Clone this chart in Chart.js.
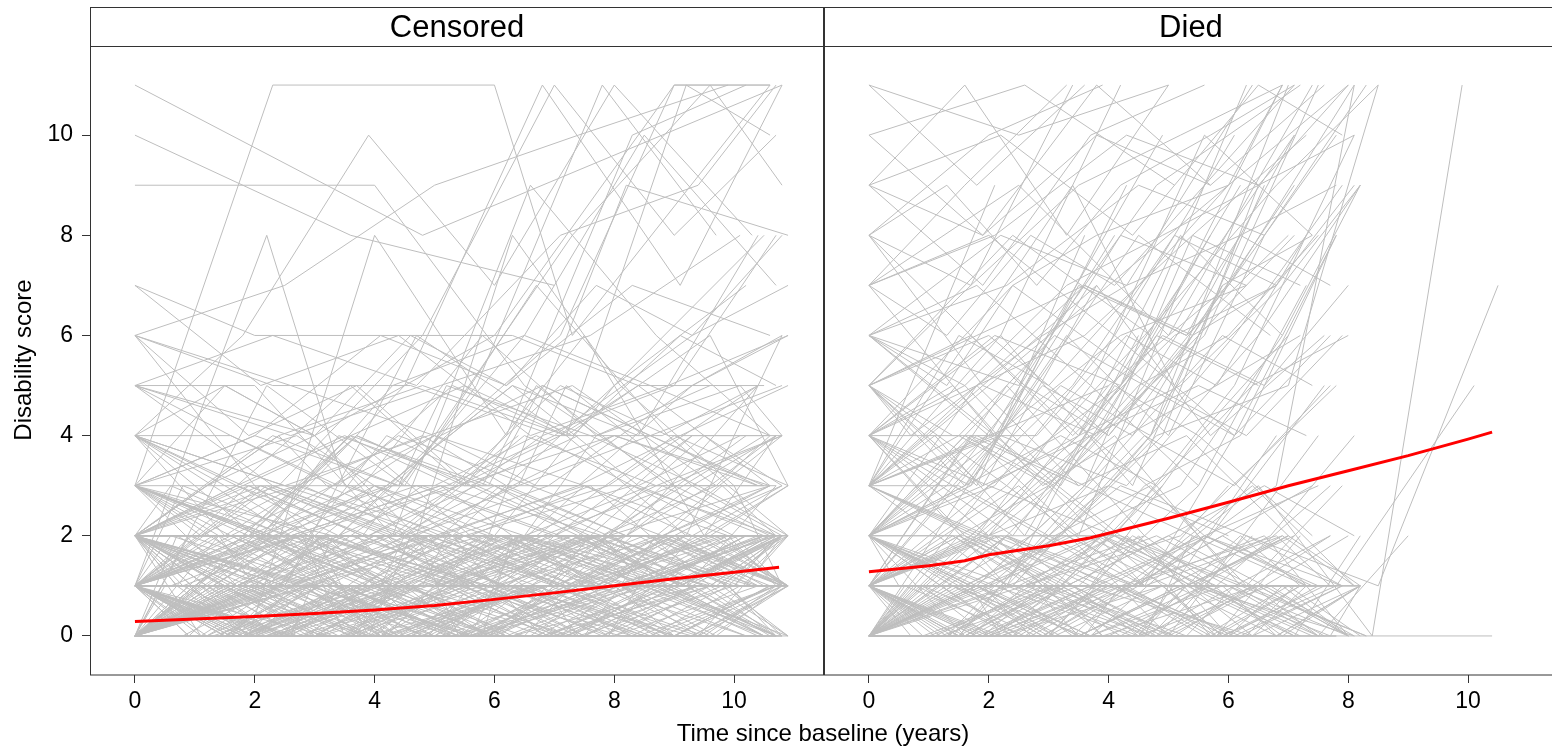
<!DOCTYPE html>
<html>
<head>
<meta charset="utf-8">
<title>Disability score trajectories</title>
<script src="https://cdn.jsdelivr.net/npm/chart.js@4"></script>
<style>
    html, body { margin: 0; padding: 0; background: #fff; overflow: hidden; }
    #wrap {
        position: relative; width: 1552px; height: 748px; overflow: hidden;
        font-family: "Liberation Sans", Arial, sans-serif; color: #000;
    }
    #wrap canvas { position: absolute; top: 0; }
    #c1 { left: 0; }
    #c2 { left: 824px; }
    .strip {
        position: absolute; top: 7px; height: 39px; line-height: 39px;
        width: 734px; text-align: center; font-size: 31px;
    }
    .axis-title { position: absolute; font-size: 24px; line-height: 28px; text-align: center; white-space: nowrap; }
    #xtitle { left: 523px; top: 719px; width: 600px; }
    #ytitle { left: -127px; top: 346px; width: 300px; transform: rotate(-90deg); }
</style>
</head>
<body>
<div id="wrap">
    <canvas id="c1" width="824" height="748"></canvas>
    <canvas id="c2" width="734" height="748"></canvas>
    <div class="strip" style="left:90px">Censored</div>
    <div class="strip" style="left:824px">Died</div>
    <div id="xtitle" class="axis-title">Time since baseline (years)</div>
    <div id="ytitle" class="axis-title">Disability score</div>
</div>
<script>
// tick values
const xTicks = [0, 2, 4, 6, 8, 10];
const yTicks = [0, 2, 4, 6, 8, 10];

// Censored: visit times (years) and disability scores per subject
const censoredTimes = [
    [0,1.9,3.8,5.6,7.4,9.1,10.7],
    [0,2.2,4.3,6.4,8.5,10.6],
    [0,1.6,3.3,5.0,6.6,8.3,9.9,10.8],
    [0,2.5,4.9,7.2,9.6,10.9],
    [0,1.7,3.5,5.2,6.9],
    [0,2.0,4.1],
    [0,1.8,3.7,5.5,7.3,9.0,10.6],
    [0,2.3,4.4,6.7,8.8,10.7],
    [0,1.5,3.1,4.6,6.2,7.8,9.3,10.8],
    [0,2.1,4.2,6.1,8.2,10.3],
    [0,1.9,3.9,5.8,7.7,9.6,10.9],
    [0,2.4,4.7,7.0,9.2,10.8],
    [0,1.6,3.2,4.9,6.5],
    [0,2.0,3.9,6.0,7.9,9.8,10.7],
    [0,2.6,5.1,7.5,10.1],
    [0,1.8,3.6,5.3,7.1,8.9,10.6],
    [0,2.2,4.5,6.6,8.7,10.8],
    [0,1.7,3.4,5.1],
    [0,1.9,3.8,5.7,7.5,9.4,10.9],
    [0,2.3,4.6,6.8,9.0,10.7],
    [0,1.5,3.0,4.5,6.0,7.6,9.1,10.6],
    [0,2.1,4.0,6.2,8.1,10.2],
    [0,2.7,5.3,7.9,10.4],
    [0,1.8,3.5,5.4,7.2,8.9,10.7],
    [0,2.0,4.2,6.3,8.4,10.5],
    [0,1.6,3.4,5.2,6.9,8.6,10.3],
    [0,2.4,4.8,7.1,9.5,10.9],
    [0,1.9,3.7,5.6,7.4],
    [0,2.2,4.3,6.5,8.6,10.7],
    [0,1.7,3.3,5.0,6.7,8.4,10.0,10.8],
    [0,2.5,5.0,7.4,9.8],
    [0,1.8,3.9,5.9,7.8,9.7,10.6],
    [0,2.1,4.4,6.6,8.9,10.9],
    [0,1.6,3.2,4.8,6.4,8.0,9.6,10.7],
    [0,2.3,4.5,6.8,9.1,10.8],
    [0,1.9,3.8,5.8,7.7,9.5],
    [0,2.0,4.1,6.1,8.2,10.4],
    [0,2.6,5.2,7.7,10.2],
    [0,1.7,3.5,5.3,7.0,8.8,10.6],
    [0,2.2,4.3,6.4,8.6,10.7],
    [0,1.5,3.1,4.7,6.3,7.9,9.5,10.9],
    [0,2.4,4.7,7.1,9.3,10.8],
    [0,1.8,3.6,5.5,7.3,9.2,10.7],
    [0,2.1,4.2,6.3],
    [0,1.9,3.9,5.7,7.6,9.5,10.8],
    [0,2.3,4.6,6.9,9.2,10.6],
    [0,1.6,3.3,5.0,6.7,8.3,10.0,10.9],
    [0,2.0,4.0,6.0,8.0,10.0,10.7],
    [0,2.7,5.4,8.0,10.6],
    [0,1.7,3.4,5.2,6.9,8.7,10.5],
    [0,2.2,4.4,6.7,8.9,10.8],
    [0,1.8,3.7,5.5,7.4,9.3,10.9],
    [0,2.5,4.9,7.3,9.7,10.8],
    [0,1.9,3.8,5.6,7.5,9.3,10.7],
    [0,2.1,4.3,6.4],
    [0,1.6,3.1,4.8,6.4,8.1,9.7,10.8],
    [0,2.3,4.6,7.0,9.3,10.9],
    [0,1.8,3.5,5.3,7.1,8.9,10.6],
    [0,2.0,4.1,6.2,8.3,10.4],
    [0,2.6,5.1,7.6,10.0],
    [0,1.7,3.5,5.2,7.0,8.7,10.5],
    [0,2.2,4.4,6.5,8.6,10.8],
    [0,1.9,3.7,5.6,7.4,9.3],
    [0,2.4,4.8,7.2,9.6,10.9],
    [0,1.5,3.0,4.6,6.1,7.7,9.2,10.7],
    [0,2.1,4.2,6.4,8.5,10.6],
    [0,1.8,3.6,5.4,7.2,9.0,10.8],
    [0,2.5,5.0,7.5],
    [0,1.6,3.3,5.1,6.8,8.5,10.2],
    [0,2.3,4.5,6.8,9.0,10.7],
    [0,4.8,10.8],
    [0,3.6,7.0],
    [0,4.0,6.5,9.0],
    [0,2.3,6.0,7.3,10.6],
    [0,2.1,4.5,6.8,9.1,10.8],
    [0,1.9,4.0,6.2,8.3,10.2],
    [0,2.4,4.8,7.0,9.0,10.7],
    [0,1.7,3.4,5.2,7.1,9.0,10.6],
    [0,2.0,4.1,6.3,8.4,10.5],
    [0,2.2,3.5,5.9,8.2,10.9],
    [0,2.0,4.3,6.6,8.7,10.6],
    [0,1.8,3.9,6.0,8.0,10.3],
    [0,2.6,5.0,7.5,9.9],
    [0,2.3,4.4,6.5,8.5,10.7],
    [0,1.5,3.0,4.7,6.3,8.1,10.0,10.8],
    [0,2.1,4.2,6.3,8.4,10.4],
    [0,2.4,5.0,7.3,9.6,10.8],
    [0,1.7,3.6,5.5,7.5,9.5,10.7],
    [0,3.0,6.0,9.0,10.6],
    [0,2.2,4.5,6.7,8.9,10.9],
    [0,1.9,3.8,5.7,7.8,9.7],
    [0,2.5,4.7,7.2,9.2,10.8],
    [0,1.6,3.4,5.3,7.2,9.2,10.6],
    [0,2.0,4.0,6.1,8.3,10.5],
    [0,2.3,4.6,6.9,9.3,10.8],
    [0,1.8,3.6,5.6,7.6,9.6,10.8],
    [0,2.1,4.3,6.5,8.6,10.6],
    [0,2.7,5.3,8.0,10.5],
    [0,1.7,3.4,5.2,7.0,8.8,10.4],
    [0,2.2,4.5,6.7,9.0,10.9],
    [0,1.8,3.6,5.3,7.1,8.9,10.7],
    [0,2.0,4.0,5.9,7.9,9.9,10.8],
    [0,1.6,3.2,4.9,6.5,8.2,9.9,10.7],
    [0,2.4,4.7,7.0,9.4,10.8],
    [0,1.9,3.9,5.8,7.7,9.6,10.9],
    [0,2.2,4.3,6.4,8.5,10.7],
    [0,1.7,3.5,5.4,7.2,9.1,10.6],
    [0,2.5,4.9,7.4,9.8,10.9],
    [0,1.5,3.2,4.8,6.5,8.1,9.8,10.8],
    [0,2.1,4.1,6.2,8.3,10.5],
    [0,1.8,3.7,5.5,7.3,9.2,10.7],
    [0,2.3,4.5,6.7,9.0,10.8],
    [0,1.9,3.8,5.7,7.6,9.5,10.6],
    [0,2.0,4.2,6.3,8.5,10.7],
    [0,1.6,3.4,5.1,6.8,8.6,10.3],
    [0,2.6,5.1,7.7,10.2],
    [0,1.7,3.5,5.3],
    [0,2.2,4.4,6.6,8.8,10.8],
    [0,1.9,3.9,5.9,7.8,9.8,10.9],
    [0,2.4,4.6,6.9,9.1,10.6],
    [0,1.4,2.9,4.4,5.9,7.4,8.9,10.4],
    [0,2.8,5.5,8.2,10.7],
    [0,1.2,2.6,4.0,5.5,7.0,8.6,10.1,10.8],
    [0,3.1,6.2,9.3,10.8],
    [0,1.3,2.7,4.2,5.8,7.3,8.9,10.5],
    [0,2.9,5.7,8.6,10.9],
    [0,1.4,3.0,4.5,6.1,7.7,9.2,10.7],
    [0,2.6,5.3,7.8,10.4],
    [0,1.5,2.8,4.3,5.7,7.2,8.7,10.2],
    [0,3.3,6.5,9.6,10.9],
    [0,1.1,2.4,3.9,5.4,6.9,8.4,9.9,10.8],
    [0,2.7,5.4,8.1,10.7],
    [0,1.6,3.0,4.4,5.9,7.5,9.0,10.6],
    [0,2.9,5.6,8.4,10.8],
    [0,1.3,2.8,4.3,5.9,7.4,9.0,10.5],
    [0,3.0,6.1,9.1,10.7],
    [0,1.4,2.9,4.5,6.0,7.6,9.1,10.6],
    [0,2.5,5.2,7.9,10.6],
    [0,1.2,2.5,4.1,5.6,7.1,8.7,10.3],
    [0,2.8,5.6,8.3,10.9],
    [0,1.5,3.0,4.6,6.2,7.7,9.3,10.8],
    [0,3.2,6.3,9.4,10.8],
    [0,1.3,2.6,4.0,5.6,7.2,8.8,10.4],
    [0,2.6,5.3,8.0,10.5],
    [0,1.4,2.9,4.3,5.8,7.4,8.9,10.5],
    [0,2.9,5.8,8.7,10.9],
    [0,1.1,2.5,4.0,5.5,7.1,8.6,10.2,10.8],
    [0,3.0,5.9,8.9,10.7],
    [0,1.6,3.1,4.7,6.2,7.8,9.4,10.9],
    [0,2.7,5.4,8.2,10.6],
    [0,1.5,2.9,4.4,6.0,7.5,9.1,10.6],
    [0,2.4,5.0,7.6,10.3],
    [0,1.3,2.7,4.2,5.7,7.2,8.8,10.3],
    [0,3.1,6.0,9.0,10.8],
    [0,1.2,2.8,4.3,5.9,7.5,9.0,10.6],
    [0,2.8,5.5,8.3,10.7],
    [0,1.4,2.8,4.2,5.7,7.3,8.9,10.4],
    [0,2.6,5.1,7.8,10.5],
    [0,1.5,3.1,4.6,6.1,7.6,9.2,10.8],
    [0,3.0,6.0,8.9,10.9],
    [0,1.5,3.0,4.6,6.2,7.7,9.3,10.8],
    [0,2.3,4.7,7.1,9.4,10.7],
    [0,2.0,4.1,6.2,8.3,10.6],
    [0,1.8,3.6,5.5,7.3,9.1,10.7],
    [0,2.5,5.0,7.4,9.9],
    [0,2.2,4.4,6.5,8.7,10.8],
    [0,1.7,3.5,5.3,7.1,8.9,10.6],
    [0,2.4,4.8,7.2,9.6,10.9],
    [0,2.0,4.2,6.3,8.4,10.5],
    [0,1.9,3.8,5.8,7.7,9.6],
    [0,2.6,5.1,7.6,10.1],
    [0,2.1,4.3,6.4,8.6,10.8],
    [0,1.6,3.3,5.0,6.7,8.4,10.1],
    [0,2.3,4.5,6.8,9.0,10.7],
    [0,2.0,4.0,6.0,8.0,10.2],
    [0,1.8,3.7,5.5,7.4,9.3,10.9],
    [0,2.5,4.9,7.3,9.7],
    [0,2.2,4.4,6.6,8.8,10.6],
    [0,1.7,3.4,5.1,6.8,8.6,10.4],
    [0,2.3,4.7,7.0,9.3,10.8],
    [0,0.9,2.7,3.4,5.8,6.3,8.9,10.5],
    [0,1.1,3.6,4.2,6.9,7.6,9.8,10.8],
    [0,2.9,3.8,5.1,7.9,8.4,10.6],
    [0,0.7,2.2,4.9,5.6,8.1,9.4,10.9],
    [0,1.3,3.9,4.6,7.2,8.0,10.4],
    [0,2.4,3.1,5.9,6.5,9.0,10.7],
    [0,0.8,2.5,3.3,6.0,7.0,9.6,10.8],
    [0,1.5,4.0,5.0,7.7,8.6,10.9],
    [0,2.8,3.5,6.2,7.3,9.9,10.6],
    [0,1.0,2.3,4.7,5.4,8.3,9.1,10.8],
    [0,1.9,2.6,5.3,6.1,8.8,10.5],
    [0,0.6,3.2,4.4,6.6,7.9,10.1,10.9],
    [0,2.1,3.7,4.5,7.0,8.2,10.7],
    [0,1.2,2.9,5.6,6.4,9.2,10.6],
    [0,2.6,3.3,5.7,7.5,8.7,10.9],
    [0,0.9,1.8,4.3,5.5,7.8,9.5,10.8],
    [0,1.6,3.4,4.1,6.8,7.4,10.0,10.7],
    [0,2.3,4.8,5.2,7.9,9.3,10.8],
    [0,1.4,2.0,4.6,6.3,8.5,10.4],
    [0,0.8,3.0,3.9,6.7,7.2,9.7,10.9],
    [0,2.7,4.3,5.8,8.0,9.0,10.6],
    [0,1.1,2.4,5.0,5.9,8.6,10.8],
    [0,1.8,3.6,4.4,7.1,8.0,10.5],
    [0,0.5,2.8,4.1,6.4,7.7,9.9,10.7],
    [0,2.2,3.1,5.5,6.9,9.4,10.9],
    [0,1.3,3.8,4.9,7.4,8.3,10.6],
    [0,2.5,3.4,6.0,6.8,9.6,10.8],
    [0,0.7,1.9,4.5,5.3,8.0,8.8,10.7],
    [0,1.7,4.2,5.1,7.6,9.1,10.9],
    [0,2.0,2.9,5.4,6.6,8.9,10.5],
    [0,0.9,3.3,4.0,6.5,7.3,10.2,10.8],
    [0,1.5,2.6,4.8,6.1,8.4,10.7],
    [0,2.4,3.9,5.2,7.8,8.5,10.6],
    [0,1.0,2.2,4.3,5.7,7.9,9.3,10.9],
    [0,1.9,3.5,4.7,7.0,8.8,10.8],
    [0,0.6,2.7,3.6,6.2,7.1,9.5,10.7],
    [0,2.6,4.5,5.6,8.1,9.7,10.9],
    [0,1.2,3.1,4.0,6.7,7.5,10.3],
    [0,2.1,3.0,5.8,6.3,9.0,10.6],
    [0,0.8,2.4,4.9,5.5,8.2,9.8,10.8],
    [0,1.4,3.7,4.6,7.3,8.7,10.7],
    [0,2.8,3.6,6.1,7.0,9.2,10.9],
    [0,1.1,2.0,4.4,5.2,7.7,9.0,10.5],
    [0,1.6,3.2,5.3,6.0,8.5,10.8],
    [0,2.3,3.3,5.0,7.5,8.3,10.6],
    [0,0.7,2.6,3.8,6.6,7.8,9.4,10.9],
    [0,1.8,4.1,4.9,7.2,9.5,10.7],
    [0,2.5,3.0,5.6,6.4,8.9,10.8],
    [0,1.3,2.3,4.6,5.9,8.1,10.4],
    [0,0.9,3.5,4.3,6.9,7.6,10.0,10.9],
    [0,1.2,3.0,4.5,6.4,7.2,9.3,10.7],
    [0,2.2,3.4,5.8,6.7,8.9,10.8],
    [0,0.8,2.9,4.2,6.0,7.9,10.2],
    [0,1.7,3.9,5.4,7.1,8.4,10.6],
    [0,2.4,3.2,5.1,7.4,9.1,10.9],
    [0,1.1,2.7,4.8,6.2,8.2,9.6,10.7],
    [0,1.9,3.6,5.9,6.8,8.6,10.5],
    [0,0.6,2.5,4.0,6.5,7.7,10.1,10.8],
    [0,2.0,4.4,5.2,7.6,9.4,10.9],
    [0,1.5,2.8,4.7,6.3,8.0,10.4]
];
const censoredScores = [
    [0,0,1,0,1,1,2],
    [1,0,0,1,2,1],
    [0,1,0,0,1,0,1,2],
    [2,1,1,0,1,0],
    [0,0,0,1,0],
    [1,2,0],
    [0,1,1,2,1,2,3],
    [3,2,1,1,0,1],
    [0,0,1,1,0,0,1,0],
    [1,1,2,1,2,2],
    [0,0,0,0,1,0,1],
    [2,0,1,2,1,1],
    [1,0,2,0,1],
    [0,2,1,0,1,3,2],
    [4,2,3,1,2],
    [1,1,0,1,1,0,0],
    [0,0,1,1,2,4],
    [2,1,0,1],
    [0,1,0,0,0,1,1],
    [5,3,2,2,3,2],
    [1,0,0,1,1,2,1,1],
    [0,1,2,1,1,0],
    [3,4,2,3,5],
    [0,0,1,0,1,1,0],
    [2,2,1,1,1,2],
    [1,0,0,0,0,1,1],
    [0,1,3,2,1,1],
    [6,4,5,3,4],
    [1,2,1,2,3,3],
    [0,1,1,0,0,1,2,1],
    [2,1,0,2,2],
    [0,0,1,2,2,3,4],
    [7,5,6,4,5,6],
    [1,1,1,0,0,0,1,1],
    [0,0,0,1,1,2],
    [2,3,2,1,2,1],
    [1,0,1,3,2,5],
    [0,2,1,1,0],
    [3,1,2,2,1,3,2],
    [0,1,0,0,0,1],
    [2,1,0,1,1,2,2,3],
    [1,0,2,1,3,2],
    [4,3,3,2,2,1,1],
    [0,1,1,2],
    [1,2,2,3,2,4,3],
    [0,0,1,1,1,0],
    [5,4,3,3,4,3,2,2],
    [1,1,0,2,1,1,2],
    [2,2,3,4,3],
    [0,1,2,1,0,1,0],
    [3,2,2,1,1,2],
    [1,0,0,1,0,0,1],
    [0,1,1,2,1,1],
    [2,2,1,1,3,2,2],
    [1,3,2,4],
    [0,0,1,0,1,1,0,1],
    [6,5,5,4,6,7],
    [1,1,2,2,1,1,1],
    [0,2,1,0,1,2],
    [1,0,0,1,1],
    [2,1,1,0,2,3,3],
    [0,0,1,1,0,0],
    [3,2,4,3,2,4],
    [1,1,1,2,2,3],
    [0,1,0,1,2,1,1,0],
    [2,3,2,2,1,1],
    [0,0,0,1,1,2,2],
    [4,3,2,3],
    [1,2,1,1,2,1,2],
    [0,1,1,0,1,1],
    [11,8,11],
    [10,8,7],
    [9,9,5,3],
    [3,11,11,6,11],
    [0,2,5,11,7,11],
    [1,0,8,4,10,11],
    [2,3,6,11,8,10],
    [0,1,2,4,6,11,11],
    [7,6,6,6,5,5],
    [1,8,3,2,9,8],
    [5,5,2,9,6,4],
    [4,6,10,7,11,8],
    [6,5,4,3,2],
    [2,4,3,6,10,7],
    [3,5,4,2,8,5,3,1],
    [0,1,3,5,4,8],
    [1,2,4,8,11,9],
    [2,3,5,3,6,2,4],
    [5,4,6,11,11],
    [0,5,3,7,4,2],
    [1,3,2,5,11,8],
    [2,1,6,4,2,6],
    [4,4,3,5,4,11,10],
    [6,3,1,2,1,0],
    [1,1,2,3,5,6],
    [0,2,4,2,3,1,2],
    [3,2,5,6,5,4],
    [2,3,2,5,8],
    [1,2,2,3,4,4,5],
    [0,1,1,2,4,3],
    [1,0,1,1,0,1,1],
    [0,1,1,0,2,1,0],
    [2,1,1,2,2,1,2,1],
    [0,0,0,0,1,1],
    [1,1,0,0,1,2,1],
    [0,1,2,2,1,0],
    [2,2,1,0,0,1,1],
    [1,0,1,1,2,2],
    [0,1,0,0,1,1,1,2],
    [3,2,1,1,1,1],
    [0,0,1,1,2,1,3],
    [1,2,0,1,0,1],
    [2,1,2,1,2,2,2],
    [0,0,0,1,0,0],
    [1,1,1,1,2,2,1],
    [0,1,2,1,1],
    [1,0,1,0],
    [2,1,1,2,2,3],
    [0,1,1,1,0,1,0],
    [1,0,0,1,1,2],
    [0,1,1,0,1,2,1,1],
    [1,1,2,1,2],
    [0,0,1,1,1,0,0,1,1],
    [2,1,1,0,1],
    [1,1,0,0,2,1,0,0],
    [0,1,0,1,1],
    [2,2,1,2,1,1,2,2],
    [0,0,2,2,1],
    [1,0,1,0,0,1,1,2],
    [3,2,2,1,1],
    [0,1,0,1,1,2,2,1,1],
    [1,2,1,0,0],
    [0,0,0,1,1,0,1,1],
    [2,1,0,1,1],
    [1,2,2,1,0,1,1,0],
    [0,1,1,1,2],
    [0,0,1,1,2,2,1,1],
    [3,1,2,2,3],
    [1,1,1,0,1,1,0,0],
    [0,0,1,0,0],
    [2,1,2,1,1,2,2,3],
    [1,0,0,1,1],
    [0,1,1,2,1,1,2,1],
    [1,1,0,1,2],
    [3,2,2,1,1,1,2,2],
    [0,1,2,1,1],
    [1,0,0,1,0,1,1,2,2],
    [2,2,1,1,0],
    [0,1,1,1,2,1,1,1],
    [1,0,1,2,2],
    [4,3,2,2,3,2,1,2],
    [0,2,1,1,1],
    [1,1,2,2,1,0,1,1],
    [0,0,1,1,2],
    [2,1,0,1,1,1,0,1],
    [1,2,2,3,2],
    [0,0,1,0,0,1,1,1],
    [3,2,3,2,4],
    [1,0,0,0,1,1,1,2],
    [2,1,1,2,1],
    [4,5,4,6,5,7,6,8],
    [5,6,5,8,9,11],
    [3,4,6,5,7,6],
    [2,3,4,5,4,6,5],
    [6,7,9,10,11],
    [1,3,2,4,3,4],
    [3,3,4,3,5,4,4],
    [2,4,5,4,6,3],
    [4,2,3,5,3,2],
    [1,2,3,6,4,5],
    [5,4,5,6,8],
    [2,2,3,3,4,5],
    [3,2,3,4,3,3,4],
    [1,3,2,4,5,8],
    [0,1,3,2,5,7],
    [2,2,4,3,3,5,6],
    [4,3,4,5,3],
    [1,2,4,3,2,3],
    [2,3,2,4,5,4,3],
    [3,2,3,2,4,4],
    [1,0,2,1,0,2,1,1],
    [0,1,1,0,1,2,2,1],
    [2,0,1,2,0,1,2],
    [0,2,1,0,1,1,0,2],
    [1,1,0,2,1,0,1],
    [0,1,2,1,2,1,1],
    [2,1,0,1,0,1,1,2],
    [0,0,1,1,2,1,0],
    [1,2,0,1,1,2,2],
    [0,1,2,2,0,1,2,1],
    [2,0,1,1,2,1,0],
    [1,2,1,0,1,2,1,1],
    [0,1,0,2,1,1,2],
    [2,1,1,0,2,1,1],
    [1,0,2,1,0,2,1],
    [0,1,0,1,2,1,2,2],
    [2,2,1,0,1,0,1,1],
    [1,0,1,2,2,1,2],
    [0,2,1,1,0,1,0],
    [1,1,2,0,1,1,2,1],
    [0,1,1,2,1,0,1],
    [2,0,1,1,2,2,1],
    [1,1,0,1,0,1,2],
    [0,1,1,0,2,1,1,0],
    [2,1,2,1,1,0,1],
    [0,0,1,2,1,2,2],
    [1,2,1,1,0,1,1],
    [2,1,0,1,1,2,1,0],
    [0,1,2,1,2,1,2],
    [1,0,1,0,1,1,2],
    [0,2,1,1,0,1,1,2],
    [2,1,1,2,1,0,1],
    [1,1,0,1,2,1,1],
    [0,1,2,1,1,0,2,1],
    [2,0,0,1,1,2,1],
    [1,1,2,2,1,1,0,1],
    [0,2,1,0,1,1,2],
    [1,0,1,1,2,2,1],
    [2,1,0,1,1,0,1],
    [0,0,1,2,1,1,1,2],
    [1,2,2,1,0,1,1],
    [2,1,1,0,1,2,2],
    [0,1,0,1,1,1,2,1],
    [1,1,2,2,1,0,0],
    [0,2,1,1,2,1,1],
    [2,1,1,0,0,1,2,1],
    [1,0,1,2,1,1,0],
    [0,1,2,1,2,2,1],
    [2,2,1,1,0,1,1],
    [1,0,0,1,1,2,1,2],
    [2,3,4,2,3,5,3,4],
    [3,2,4,3,5,3,4],
    [1,3,2,4,3,2,4],
    [4,3,2,3,4,5,3],
    [2,4,3,2,3,4,5],
    [3,2,3,4,3,2,3,4],
    [1,2,4,3,5,4,3],
    [2,3,2,3,2,4,5,4],
    [3,4,3,5,4,3,2],
    [4,2,3,2,3,4,3]
];

// Died: visit times (years) and disability scores per subject
const diedTimes = [
    [0,1.8,3.6,5.4],
    [0,2.0,4.1],
    [0,1.6,3.2,4.9,6.5],
    [0,2.3,4.5,6.8,8.1],
    [0,1.7,3.4],
    [0,2.1],
    [0,1.9,3.8,5.7,7.6],
    [0,2.4,4.8,7.1],
    [0,1.5,3.1,4.6,6.2,7.8],
    [0,2.2,4.3,6.4],
    [0,1.8,3.5,5.3,7.0,8.2],
    [0,2.0,4.0,6.0],
    [0,1.6,3.3],
    [0,2.5,5.0,7.5],
    [0,1.7,3.5,5.2,6.9],
    [0,2.1,4.2,6.3,8.3],
    [0,1.9,3.7,5.6],
    [0,2.3,4.6],
    [0,1.6,3.1,4.7,6.3,7.9],
    [0,2.2,4.4,6.6],
    [0,1.8,3.7,5.5,7.3],
    [0,2.6,5.1],
    [0,1.5,3.0,4.5,6.0,7.5],
    [0,2.0,4.1,6.1,8.1],
    [0,1.7,3.4,5.1],
    [0,2.4,4.7,7.0],
    [0,1.9,3.8],
    [0,2.1,4.3,6.4,8.2],
    [0,1.6,3.3,5.0,6.6],
    [0,2.3,4.5,6.7],
    [0,1.8,3.6],
    [0,2.0,4.0,6.1,7.9],
    [0,1.7,3.5,5.2,6.9],
    [0,2.5,4.9],
    [0,1.9,3.9,5.8,7.7],
    [0,2.2,4.2],
    [0,1.5,3.1,4.6,6.1],
    [0,2.1,4.3,6.5,8.0],
    [0,1.8,3.7,5.5],
    [0,2.4,4.7,7.1],
    [0,1.6,3.2,4.8,6.4],
    [0,2.0,3.9],
    [0,1.7,3.4,5.2,6.9,8.2],
    [0,2.3,4.6,6.9],
    [0,1.9,3.8,5.6,7.5],
    [0,2.2],
    [0,1.8,3.5,5.3,7.0],
    [0,2.6,5.2,7.8],
    [0,1.6,3.3,5.0],
    [0,2.0,4.1,6.2,8.2],
    [0,1.7,3.5,5.3,7.1],
    [0,2.4,4.8],
    [0,1.9,3.7,5.6,7.4],
    [0,2.1,4.2,6.3],
    [0,1.5,3.0,4.6,6.1,7.7],
    [0,2.3,4.5,6.8],
    [0,1.8,3.6,5.4,7.2],
    [0,2.0,4.0],
    [0,1.7,3.3,5.0,6.7,8.1],
    [0,2.5,5.0,7.4],
    [0,1.6,3.2,4.9],
    [0,2.2,4.4,6.6,8.0],
    [0,1.9,3.8,5.7],
    [0,2.1,4.1,6.1,7.8],
    [0,1.8,3.6,5.4],
    [0,2.4,4.7],
    [0,1.5,3.1,4.7,6.3,7.9],
    [0,2.0,4.0,6.0,8.0],
    [0,1.7,3.4],
    [0,2.3,4.6,6.9,8.2],
    [0,1.8,3.7,5.6,7.4],
    [0,2.2,4.3],
    [0,1.6,3.3,5.0,6.6,8.1],
    [0,2.0,4.2,6.3],
    [0,1.9,3.8,5.7,7.6],
    [0,2.6,5.1,7.7],
    [0,1.7,3.5,5.2],
    [0,2.1,4.3,6.4,8.1],
    [0,1.8,3.6],
    [0,2.4,4.8,7.2],
    [0,1.5,3.0,4.5,6.0],
    [0,2.2,4.4,6.5,7.9],
    [0,1.9,3.9],
    [0,2.0,4.1,6.2,8.3],
    [0,1.6,3.2,4.8,6.5],
    [0,2.3,4.5],
    [0,1.7,3.4,5.1,6.8],
    [0,2.5,5.0],
    [0,1.8,3.5,5.3,7.1,8.2],
    [0,2.1,4.2,6.3],
    [0,1.9,3.7,5.5,7.4],
    [0,2.2,4.5,6.7],
    [0,1.6,3.3,5.0,6.7],
    [0,2.0,4.0,6.0,8.1],
    [0,1.7,3.5],
    [0,2.0,4.1,6.2,8.0,10.4],
    [0,2.2,4.4,6.5,8.4,9.9],
    [0,2.1,4.2,6.3,8.5,10.5],
    [0,1.9,3.9,5.8,7.8,10.1],
    [0,2.3,4.6,6.8,8.5],
    [0,1.8,3.7,5.6,7.5,9.0],
    [0,2.4,4.8,7.0,8.5],
    [0,1.4,2.9,4.3,5.8,7.2],
    [0,1.6,3.1,4.7,6.2,7.9],
    [0,1.3,2.7,4.1,5.6,7.0,8.2],
    [0,1.8,3.5,5.2,6.9],
    [0,1.5,3.0,4.4,5.9,7.4],
    [0,2.0,3.9,5.9,7.8],
    [0,1.2,2.6,4.0,5.5],
    [0,1.7,3.4,5.0,6.6,8.2],
    [0,1.4,2.8,4.2,5.6,7.1],
    [0,1.9,3.7,5.6,7.5],
    [0,1.3,2.6,3.9,5.3,6.7,8.0],
    [0,1.6,3.2,4.8,6.4],
    [0,1.5,3.0,4.5,6.0,7.6],
    [0,1.8,3.6,5.4,7.2],
    [0,1.4,2.9,4.4,5.9,7.3,8.2],
    [0,1.7,3.3,5.0,6.6],
    [0,1.3,2.8,4.2,5.7,7.2],
    [0,2.1,4.1,6.0,8.0],
    [0,1.5,3.1,4.6,6.1,7.7],
    [0,1.9,3.8,5.6],
    [0,1.2,2.5,3.9,5.4,6.9,8.1],
    [0,1.6,3.2,4.9,6.5,8.0],
    [0,1.4,2.7,4.1,5.5,7.0],
    [0,1.8,3.5,5.3,7.1],
    [0,1.5,2.9,4.4,6.0,7.5],
    [0,2.0,4.0,5.9,7.8],
    [0,1.3,2.7,4.2,5.7],
    [0,1.7,3.4,5.1,6.8,8.2],
    [0,1.5,3.0,4.5,6.0,7.5],
    [0,1.8,3.6,5.4,7.1],
    [0,1.4,2.9,4.4,5.9],
    [0,2.0,4.0,6.0,7.8],
    [0,1.6,3.2,4.8,6.4,8.0],
    [0,1.3,2.7,4.1,5.6,7.1],
    [0,1.9,3.8,5.7],
    [0,1.5,3.1,4.6,6.2,7.7],
    [0,1.7,3.5,5.2,6.9],
    [0,2.2,4.3,6.5,8.2],
    [0,1.4,2.8,4.3,5.8,7.3],
    [0,1.8,3.7,5.5,7.3],
    [0,1.6,3.3,4.9,6.5,8.1],
    [0,2.1,4.2,6.2],
    [0,1.3,2.6,4.0,5.4,6.8],
    [0,1.9,3.8,5.7,7.6],
    [0,1.5,3.0,4.6,6.1,7.7],
    [0,1.7,3.4,5.1,6.8,8.1],
    [0,2.0,4.1,6.1],
    [0,1.4,2.9,4.4,5.9,7.4],
    [0,1.8,3.6,5.3,7.0],
    [0,1.6,3.1,4.7,6.3,7.9],
    [0,2.3,4.5,6.6,8.3],
    [0,1.5,3.0,4.5,6.0],
    [0,1.9,3.7,5.6,7.5],
    [0,1.3,2.8,4.2,5.7,7.1],
    [0,1.7,3.5,5.2,6.9,8.2],
    [0,2.1,4.2,6.3],
    [0,1.4,2.9,4.3,5.8,7.2],
    [0,1.8,3.6,5.4,7.3],
    [0,0.8,2.4,3.9,5.1,6.8],
    [0,1.1,2.9,4.6,5.4,7.3],
    [0,0.6,2.2,3.4,5.8,6.5,8.0],
    [0,1.4,3.6,4.2,6.1,7.9],
    [0,0.9,2.0,4.5,5.3,7.0],
    [0,1.7,2.6,4.8,6.4,7.5],
    [0,0.7,3.0,3.8,5.6,7.7,8.2],
    [0,1.2,2.3,4.0,6.0,6.9],
    [0,2.0,3.3,5.0,5.7,7.8],
    [0,0.5,2.7,3.5,5.2,6.6,8.1],
    [0,1.3,2.1,4.4,6.2,7.2],
    [0,1.8,3.1,4.9,5.9,7.6],
    [0,0.8,2.5,4.1,5.5,7.4],
    [0,1.5,3.4,4.3,6.6,8.0],
    [0,0.9,2.8,3.7,5.9,6.8,8.2],
    [0,1.6,2.4,4.7,6.3,7.1],
    [0,1.0,3.2,4.5,5.6,7.9],
    [0,2.1,2.9,5.3,6.1,7.6],
    [0,0.7,2.3,3.6,6.4,7.3],
    [0,1.4,3.0,4.6,5.4,8.1],
    [0,1.9,2.7,4.2,6.8,7.7],
    [0,0.6,2.6,4.0,5.7,6.9,8.0],
    [0,1.2,3.5,4.4,6.0,7.5],
    [0,1.7,2.2,4.9,5.8,7.8],
    [0,0.9,3.1,3.9,6.5,7.2],
    [0,1.1,2.6,4.1,5.5,7.0],
    [0,0.7,2.9,4.3,6.2,7.8],
    [0,1.6,3.2,4.7,5.9,7.4],
    [0,1.3,2.4,3.8,6.0,6.9],
    [0,2.0,3.5,4.9,6.6,8.0]
];
const diedScores = [
    [0,1,3,6],
    [2,4,8],
    [1,1,2,4,9],
    [0,2,1,3,11],
    [5,7,11],
    [3,9],
    [0,0,1,2,5],
    [4,2,6,10],
    [1,2,1,3,4,8],
    [6,8,7,11],
    [0,1,0,1,2,1],
    [2,1,3,2],
    [7,9,11],
    [1,3,0,4],
    [3,2,4,8,6],
    [0,0,1,1,0],
    [9,7,10,11],
    [1,5,2],
    [2,0,1,0,2,1],
    [4,6,3,9],
    [0,2,5,3,7],
    [10,11,9],
    [1,1,0,2,0,1],
    [3,4,2,5,10],
    [8,6,9,5],
    [0,1,4,11],
    [2,3,7],
    [1,0,2,0,1],
    [5,3,6,4,8],
    [0,2,0,1],
    [11,9,11],
    [4,2,3,6,9],
    [1,4,2,7,11],
    [6,5,10],
    [0,0,2,1,3],
    [3,6,11],
    [2,1,3,5,4],
    [7,8,10,9,11],
    [1,0,1,3],
    [4,7,5,8],
    [0,1,1,0,2],
    [8,10,11],
    [2,1,2,3,6,9],
    [5,3,1,2],
    [1,2,4,6,11],
    [0,4],
    [3,5,3,4,2],
    [0,1,2,5],
    [9,11,8,11],
    [1,3,2,1,1],
    [4,3,7,6,10],
    [2,0,3],
    [0,1,0,2,1],
    [6,4,8,7],
    [0,2,3,1,4,6],
    [3,1,0,4],
    [2,4,3,8,7],
    [1,2,5],
    [0,0,1,1,2,4],
    [7,9,6,11],
    [4,2,1,3],
    [1,0,1,2,0],
    [10,8,11,9],
    [2,3,6,4,8],
    [0,1,3,2],
    [5,8,6],
    [1,0,2,3,1,3],
    [3,5,7,9,11],
    [0,2,1],
    [4,1,2,0,1],
    [6,7,5,10,8],
    [1,4,9],
    [2,2,1,2,3,2],
    [0,3,5,11],
    [8,5,7,4,6],
    [1,1,0,2],
    [3,6,4,7],
    [0,1,1,3,1],
    [5,3,8],
    [2,5,9,11],
    [0,0,1,1,3],
    [9,10,8,11,10],
    [1,2,0],
    [3,2,4,1,0],
    [4,5,3,6,5],
    [0,1,6],
    [2,3,5,8,7],
    [11,10,11],
    [1,0,0,1,0,2],
    [7,4,2,1],
    [0,2,1,4,2],
    [3,4,8,6],
    [1,1,2,1,1],
    [5,6,4,7,11],
    [2,4,3],
    [0,0,1,0,0,0],
    [1,2,1,3,0,11],
    [2,1,3,2,1,7],
    [3,2,1,1,1,5],
    [1,3,6,9,11],
    [0,1,0,1,0,2],
    [2,1,4,5,11],
    [0,1,0,1,0,1],
    [1,0,1,0,0,1],
    [0,0,1,1,0,1,0],
    [2,1,0,1,1],
    [1,2,1,1,2,3],
    [0,1,2,0,1],
    [1,0,0,1,2],
    [0,1,1,0,1,1],
    [2,2,1,0,1,0],
    [1,0,1,2,1],
    [0,1,1,2,1,1,0],
    [1,1,0,0,1],
    [0,0,0,1,1,1],
    [1,2,2,1,0],
    [0,1,0,1,2,1,1],
    [2,1,1,2,1],
    [1,0,1,1,0,1],
    [0,2,1,1,0],
    [0,1,0,0,1,2],
    [1,1,2,1],
    [2,1,0,1,1,2,1],
    [0,0,1,0,1,0],
    [1,2,1,2,1,2],
    [0,1,1,1,2],
    [1,0,2,1,1,0],
    [0,0,1,1,1],
    [1,1,2,2,1],
    [2,1,1,0,0,1],
    [3,4,3,5,6,8],
    [5,6,7,6,9],
    [4,3,5,4,7],
    [6,4,5,7,10],
    [2,3,4,3,5,6],
    [7,6,8,7,9,11],
    [3,5,4,8],
    [4,4,6,5,8,7],
    [8,7,9,10,11],
    [2,4,3,6,9],
    [5,4,4,6,5,8],
    [3,2,4,5,4],
    [6,5,7,8,9,10],
    [4,6,5,9],
    [2,3,5,4,6,7],
    [9,8,10,9,11],
    [3,3,2,4,3,5],
    [5,6,4,6,7,9],
    [7,8,6,10],
    [1,3,2,4,6,5],
    [4,5,7,6,8],
    [2,4,3,5,4,6],
    [6,7,9,8,11],
    [3,6,5,7,9],
    [5,3,4,2,3],
    [8,9,7,9,10,11],
    [1,2,4,5,7,9],
    [3,4,6,7],
    [4,5,3,4,5,6],
    [2,5,6,8,10],
    [0,1,0,1,1,0],
    [1,0,1,0,2,1],
    [0,1,1,0,0,1,0],
    [2,1,0,1,0,1],
    [1,1,0,0,1,2],
    [0,0,1,2,1,0],
    [1,0,0,1,1,0,1],
    [0,1,2,1,0,1],
    [1,0,1,1,0,0],
    [2,1,1,0,1,1,0],
    [0,0,1,0,2,1],
    [1,1,0,1,0,1],
    [0,1,1,2,1,0],
    [1,0,0,1,1,2],
    [0,1,0,0,1,0,1],
    [2,1,1,0,0,1],
    [0,0,1,1,2,1],
    [1,2,1,0,1,0],
    [0,1,1,1,0,1],
    [1,0,2,1,1,0],
    [0,1,0,1,2,1],
    [1,1,0,0,1,1,0],
    [0,0,1,2,1,1],
    [2,1,0,1,0,0],
    [1,0,1,0,1,2],
    [3,4,2,5,4,6],
    [5,4,6,7,8,9],
    [2,3,5,4,7,8],
    [6,5,7,8,9,11],
    [4,3,4,6,5,7]
];

// smoothed mean curves (red)
const censoredFitX = [0, 1, 2, 3, 4, 5, 6, 7, 8, 9, 10, 10.75];
const censoredFitY = [0.29, 0.34, 0.39, 0.45, 0.52, 0.61, 0.73, 0.86, 1.0, 1.14, 1.27, 1.37];
const diedFitX = [0, 1, 1.6, 2, 3, 3.7, 4, 5, 6, 7, 8, 9, 10, 10.4];
const diedFitY = [1.28, 1.40, 1.50, 1.62, 1.80, 1.96, 2.05, 2.35, 2.67, 3.0, 3.3, 3.6, 3.93, 4.07];

const FONT = 'Liberation Sans';

// moldura do painel + faixa do título
const framePlugin = {
    id: 'frame',
    afterDraw(chart) {
        const { ctx, chartArea: a } = chart;
        ctx.save();
        ctx.strokeStyle = '#333';
        ctx.lineWidth = 1;
        ctx.strokeRect(a.left + 0.5, 7.5, a.right - a.left - 1, a.bottom - 7.5);
        ctx.beginPath();
        ctx.moveTo(a.left, 46.5);
        ctx.lineTo(a.right, 46.5);
        ctx.stroke();
        ctx.restore();
    }
};

function buildPanel(canvasId, times, scores, fitX, fitY, showY) {
    const datasets = times.map((t, i) => ({
        data: t.map((x, j) => ({ x: x, y: scores[i][j] })),
        borderColor: '#BEBEBE',
        borderWidth: 1,
        pointRadius: 0,
        tension: 0,
        order: 1
    }));
    datasets.push({
        data: fitX.map((x, j) => ({ x: x, y: fitY[j] })),
        borderColor: '#FF0000',
        borderWidth: 3,
        pointRadius: 0,
        tension: 0,
        order: 0
    });

    const ctx = document.getElementById(canvasId).getContext('2d');
    return new Chart(ctx, {
        type: 'line',
        data: { datasets },
        plugins: [framePlugin],
        options: {
            responsive: false,
            animation: false,
            devicePixelRatio: 1,
            events: [],
            layout: { padding: { top: 46, left: 0, right: 0, bottom: 0 } },
            plugins: { legend: { display: false }, tooltip: { enabled: false } },
            scales: {
                x: {
                    type: 'linear',
                    min: -0.75,
                    max: 11.5,
                    afterBuildTicks: s => { s.ticks = xTicks.map(v => ({ value: v })); },
                    afterFit: s => { s.height = 73; },
                    border: { display: false },
                    grid: { drawOnChartArea: false, drawTicks: true, tickLength: 8, color: '#333' },
                    ticks: { font: { family: FONT, size: 23 }, color: '#000', padding: 5, maxRotation: 0 }
                },
                y: {
                    type: 'linear',
                    display: showY,
                    min: -0.78,
                    max: 11.78,
                    afterBuildTicks: s => { s.ticks = yTicks.map(v => ({ value: v })); },
                    afterFit: s => { s.width = showY ? 90 : 0; },
                    border: { display: false },
                    grid: { drawOnChartArea: false, drawTicks: true, tickLength: 8, color: '#333' },
                    ticks: { font: { family: FONT, size: 23 }, color: '#000', padding: 9 }
                }
            }
        }
    });
}

buildPanel('c1', censoredTimes, censoredScores, censoredFitX, censoredFitY, true);
buildPanel('c2', diedTimes, diedScores, diedFitX, diedFitY, false);
</script>
</body>
</html>
